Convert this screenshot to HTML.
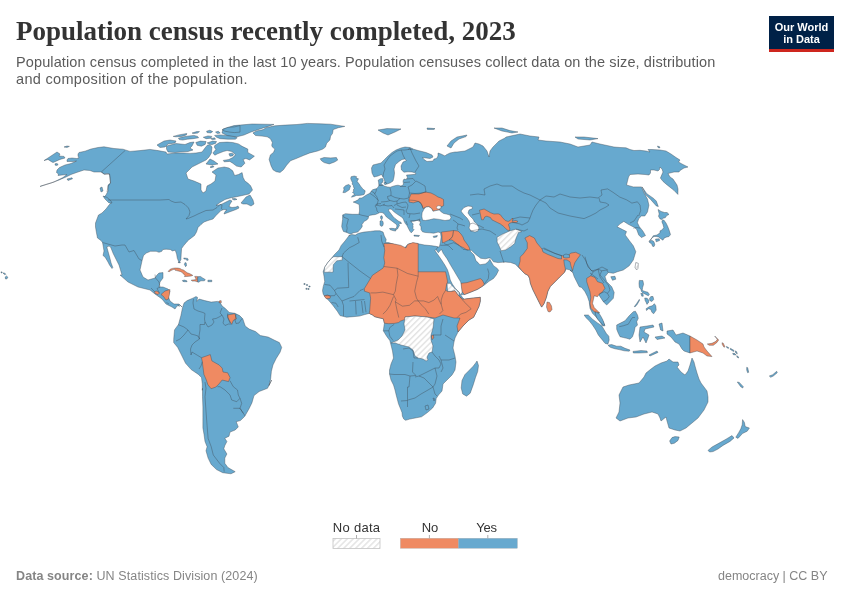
<!DOCTYPE html>
<html><head><meta charset="utf-8">
<style>
html,body{margin:0;padding:0;background:#fff;}
body{width:850px;height:600px;position:relative;overflow:hidden;font-family:"Liberation Sans",sans-serif;}
.t{position:absolute;white-space:nowrap;will-change:transform;}
#title{left:16px;top:16px;font-family:"Liberation Serif",serif;font-weight:bold;font-size:27px;line-height:31px;color:#333;}
.sub{left:16px;font-size:14.5px;line-height:17px;color:#5b5b5b;}
#logo{position:absolute;will-change:transform;left:769px;top:16px;width:65px;height:33px;background:#002147;border-bottom:3px solid #ce261e;color:#fff;font-weight:bold;font-size:11px;line-height:11px;text-align:center;}
#map{position:absolute;left:0;top:0;}
.foot{position:absolute;will-change:transform;top:569px;font-size:12.5px;line-height:14px;color:#858585;white-space:nowrap;}
.lg{position:absolute;top:519px;font-size:12.5px;line-height:14px;color:#333;white-space:nowrap;}
</style></head><body>
<div class="t" id="title">Population census recently completed, 2023</div>
<div class="t sub" style="top:54px;letter-spacing:0.117px">Population census completed in the last 10 years. Population censuses collect data on the size, distribution</div>
<div class="t sub" style="top:71px;letter-spacing:0.32px">and composition of the population.</div>
<div id="logo"><div style="padding-top:6px">Our World</div><div style="padding-top:1px">in Data</div></div>
<svg id="map" width="850" height="600" viewBox="0 0 850 600">
<defs><pattern id="hatch" patternUnits="userSpaceOnUse" width="4.2" height="4.2" patternTransform="rotate(45)"><rect width="4.2" height="4.2" fill="#fff"/><rect width="1.5" height="4.2" fill="#e4e4e4"/></pattern></defs>
<g stroke="#3c4650" stroke-opacity="0.8" stroke-width="0.5" stroke-linejoin="round">
<path d="M76.5,161.0 73.0,161.5 67.0,161.5 67.0,160.0 68.0,158.5 72.0,158.0 76.5,158.5 79.0,158.0 78.0,156.0 78.0,154.0 79.0,152.5 85.0,151.2 91.0,149.0 98.0,147.5 104.0,146.8 108.0,147.5 114.0,148.5 123.0,149.2 130.0,151.4 140.0,150.6 150.0,149.4 158.0,150.6 166.0,152.0 167.0,154.0 176.0,153.0 184.0,153.0 190.0,153.4 196.0,153.0 202.0,152.0 205.0,148.0 207.0,145.4 209.4,144.6 212.0,147.0 211.4,153.0 209.0,157.0 206.0,160.0 198.0,164.0 192.0,167.0 186.0,173.0 188.0,179.0 194.0,181.0 201.0,184.0 201.0,190.0 203.0,193.0 206.0,191.0 207.0,186.0 211.0,184.0 215.0,181.0 216.0,175.0 212.0,172.0 218.0,168.0 222.0,167.4 224.2,167.0 228.9,168.0 232.7,170.8 234.6,175.5 238.4,174.5 242.1,172.6 243.1,177.4 244.9,181.1 247.8,183.0 250.6,185.8 252.5,190.0 249.0,194.0 240.0,196.0 235.0,197.0 230.0,198.0 225.0,199.5 220.0,202.5 216.0,205.5 219.0,205.0 222.0,204.0 226.0,202.0 230.0,200.0 232.0,201.0 230.0,204.0 229.0,206.5 232.0,207.5 236.0,207.0 238.0,206.0 239.0,208.0 236.0,209.5 232.0,211.0 228.0,212.5 224.0,214.0 225.0,211.5 227.0,210.0 224.0,209.5 221.0,210.5 219.0,212.5 216.0,215.5 213.0,219.0 208.0,220.5 204.0,222.0 201.0,224.5 198.0,227.5 196.5,232.0 194.5,235.5 188.6,240.0 187.2,241.4 183.7,245.6 181.6,248.5 181.2,254.1 180.9,259.8 179.1,262.6 177.3,258.3 176.6,254.1 175.2,250.2 172.4,250.9 170.3,249.5 166.1,249.2 162.9,249.5 161.8,251.3 159.0,252.3 156.2,251.3 150.5,251.3 146.3,253.1 143.5,255.5 142.1,260.5 140.0,270.0 143.0,277.0 148.0,280.0 155.0,278.0 157.0,275.0 159.0,273.0 163.0,272.6 163.0,278.0 160.0,282.0 159.0,287.0 163.0,287.0 168.0,289.0 170.0,291.0 168.0,296.0 170.0,301.0 174.0,304.0 179.0,304.0 182.0,307.0 180.0,305.0 177.0,306.0 175.0,309.0 172.0,307.0 166.0,304.0 162.0,299.0 155.0,294.0 150.0,290.0 138.0,287.0 128.0,282.0 120.0,275.0 122.0,275.0 120.2,269.0 119.0,265.0 116.2,259.5 113.2,253.5 110.6,247.0 109.0,246.0 106.8,247.0 108.2,252.0 109.6,257.0 111.1,263.0 112.8,267.5 112.0,268.5 109.5,265.0 108.0,262.0 105.0,257.0 103.0,255.5 104.0,251.0 103.0,245.0 102.5,242.5 101.0,240.5 97.5,238.0 96.5,233.0 95.5,227.0 95.5,223.0 97.0,219.0 98.5,215.0 102.0,213.0 106.0,209.0 109.0,205.0 111.0,203.0 108.0,200.0 104.0,197.0 106.0,195.0 108.0,191.0 108.0,185.0 110.5,183.0 110.0,178.0 109.5,174.0 107.0,173.5 104.0,174.0 101.0,172.0 94.0,172.0 90.0,170.5 84.0,170.0 78.0,172.0 71.0,174.5 66.0,177.0 59.0,180.0 51.0,183.0 41.0,186.0 40.0,186.5 46.0,184.5 54.0,182.0 63.0,177.5 67.0,174.5 62.0,175.0 58.0,175.5 58.5,174.0 56.5,172.5 57.0,170.0 59.5,167.5 65.0,165.0 71.0,163.5Z" fill="#67a9cf"/>
<path d="M44.0,160.6 48.0,158.0 57.0,152.0 60.0,154.0 59.0,156.0 64.0,156.4 65.0,158.0 60.0,159.4 53.0,162.6 51.0,161.4 48.0,159.4Z" fill="#67a9cf"/>
<path d="M64.0,147.0 67.0,146.0 69.4,146.4 67.0,147.4Z" fill="#67a9cf"/>
<path d="M55.0,163.8 57.0,163.5 58.2,164.5 57.0,165.4 55.2,165.2Z" fill="#67a9cf"/>
<path d="M103.0,196.0 107.0,197.4 111.0,201.0 112.0,203.0 109.0,203.0 105.0,199.0Z" fill="#67a9cf"/>
<path d="M100.0,188.0 102.0,187.0 103.0,191.0 101.0,192.0Z" fill="#67a9cf"/>
<path d="M67.0,179.0 72.0,177.8 72.5,178.8 68.0,180.5Z" fill="#67a9cf"/>
<path d="M241.0,203.0 246.0,197.0 250.0,195.0 253.0,200.0 254.0,204.0 251.0,206.0 247.0,204.0 243.0,204.0Z" fill="#67a9cf"/>
<path d="M214.8,145.4 219.5,142.5 227.1,142.1 232.7,142.5 238.4,143.9 242.1,146.3 247.8,149.1 247.8,152.4 254.4,156.2 249.6,159.9 245.9,158.5 243.1,159.5 244.9,163.2 241.2,167.0 236.5,166.1 232.7,163.2 229.9,161.4 224.2,161.8 223.3,160.4 228.9,159.5 232.7,157.6 235.5,154.8 231.8,151.5 227.1,150.5 223.3,151.5 217.6,153.8 214.8,155.2 212.9,152.9 215.8,149.6 214.4,147.2Z" fill="#67a9cf"/>
<path d="M223.0,129.0 234.0,125.6 252.0,124.0 274.0,124.4 268.0,126.4 260.0,129.0 251.0,132.0 244.0,135.0 236.0,137.0 228.0,136.0 222.0,133.0Z" fill="#67a9cf"/>
<path d="M252.9,132.9 256.8,130.9 263.3,129.6 265.9,127.7 274.9,125.8 285.3,125.1 296.9,124.5 307.3,123.4 320.2,123.8 330.6,124.2 344.8,126.4 338.4,127.7 333.2,129.6 332.5,133.5 330.6,136.1 329.9,140.0 326.7,143.2 325.4,147.1 322.8,149.1 317.6,151.0 309.9,152.9 303.4,155.5 295.6,158.8 290.5,160.7 286.6,165.2 283.4,169.8 280.1,172.4 276.2,171.7 273.0,169.8 271.1,165.9 269.1,159.4 270.4,154.9 273.6,152.3 274.9,149.1 272.4,147.1 271.7,145.2 272.4,142.6 270.4,138.7 267.2,136.8 262.0,136.1 255.5,135.5Z" fill="#67a9cf"/>
<path d="M320.2,158.8 324.1,157.5 330.6,157.9 336.4,157.5 337.7,160.1 334.5,162.0 329.3,163.9 324.1,162.6 321.5,160.7Z" fill="#67a9cf"/>
<path d="M351.1,176.7 354.2,176.0 356.7,176.7 356.0,178.1 358.5,178.8 357.1,181.3 359.2,184.1 360.6,186.2 362.4,188.4 363.8,189.8 365.2,190.8 364.8,192.6 364.1,194.4 362.0,195.1 359.2,195.4 356.4,195.4 353.9,196.5 351.4,197.2 352.8,195.4 354.9,194.4 353.5,193.3 352.5,192.2 353.9,191.2 353.2,190.1 354.2,188.4 353.5,186.9 353.2,185.2 352.1,184.1 352.5,182.7 351.4,180.6 350.7,178.5Z" fill="#67a9cf"/>
<path d="M342.9,192.6 344.0,189.8 343.6,187.6 345.8,185.5 348.6,184.5 350.7,185.9 350.0,187.6 349.3,189.8 347.2,191.2 345.1,192.6Z" fill="#67a9cf"/>
<path d="M157.0,145.0 164.0,141.0 170.0,140.0 176.0,141.0 175.0,143.0 168.0,144.0 165.0,147.0 160.0,147.5Z" fill="#67a9cf"/>
<path d="M166.5,146.0 176.0,143.5 185.0,144.5 190.0,142.5 194.0,142.0 192.0,146.0 190.0,148.0 193.0,150.0 188.0,151.5 180.0,152.0 175.0,152.5 168.0,152.0 166.5,149.0Z" fill="#67a9cf"/>
<path d="M206.0,164.0 210.0,159.0 214.0,161.0 218.0,164.0 212.0,165.0Z" fill="#67a9cf"/>
<path d="M210.0,167.0 213.0,165.8 214.0,166.8 211.0,167.7Z" fill="#67a9cf"/>
<path d="M182.5,307.7 184.1,302.9 187.2,300.6 192.8,298.2 196.0,296.6 197.6,297.4 196.8,301.4 199.1,299.0 204.7,300.6 211.1,302.1 217.4,301.4 219.8,302.1 222.2,306.1 225.4,308.5 229.3,312.5 234.9,313.3 239.6,315.6 242.8,318.8 245.2,326.0 249.2,329.1 255.5,331.5 260.3,335.5 268.2,337.1 274.6,340.3 279.4,342.6 281.7,347.4 280.1,352.2 276.2,358.5 273.0,364.9 271.4,371.2 270.6,379.2 269.0,385.5 271.7,380.0 267.5,388.3 259.2,391.5 254.0,395.6 251.9,402.9 248.8,409.2 244.6,416.5 240.4,420.6 236.2,421.7 238.3,426.9 235.2,430.0 230.0,432.1 229.0,436.2 224.8,438.3 226.9,441.5 224.8,445.6 223.8,448.8 226.9,454.0 224.8,458.1 224.8,463.3 227.9,467.5 235.2,471.7 231.0,473.8 222.7,472.7 216.5,469.6 211.2,464.4 208.1,458.1 206.0,450.8 207.1,446.7 205.0,441.5 204.0,434.2 202.9,427.9 202.9,417.5 202.9,407.1 202.5,396.7 202.5,388.3 202.3,390.3 202.3,383.9 201.5,377.6 198.4,374.4 191.2,369.6 185.6,363.3 180.9,353.8 177.7,347.4 173.7,342.6 173.7,339.5 174.5,329.9 178.5,324.4 180.9,315.6Z" fill="#67a9cf"/>
<path d="M201.5,357.7 210.3,354.6 211.9,360.9 219.0,364.9 222.2,368.1 223.0,372.0 227.7,372.8 230.1,377.6 228.5,381.6 222.2,380.0 219.0,383.9 215.8,387.1 211.1,388.7 207.9,384.7 206.3,380.0 203.9,374.4 203.1,368.1 202.3,361.7Z" fill="#ef8a62"/>
<path d="M227.7,314.9 234.9,313.7 236.5,318.8 233.3,320.4 231.7,324.4 229.3,320.4 227.7,317.2Z" fill="#ef8a62"/>
<path d="M219.0,301.0 221.1,300.6 221.4,302.6 219.3,302.9Z" fill="#ef8a62"/>
<path d="M168.1,271.4 170.2,269.2 172.4,268.4 175.2,268.0 178.0,268.1 180.1,268.5 181.5,269.4 183.6,270.1 185.4,271.4 187.2,272.8 189.3,273.5 191.4,274.5 192.8,275.4 191.4,275.9 188.9,276.3 186.5,276.5 184.4,276.6 185.1,275.6 183.6,274.2 182.6,272.8 180.8,271.7 179.1,271.2 176.6,270.6 175.2,270.3 174.5,269.2 173.1,269.6 170.9,270.6 169.2,271.7Z" fill="#ef8a62"/>
<path d="M191.2,280.2 193.2,279.9 196.2,279.6 195.6,278.2 194.7,276.4 196.8,276.4 197.9,276.7 197.6,279.1 197.9,282.0 195.0,281.1 192.1,281.1Z" fill="#ef8a62"/>
<path d="M197.9,276.7 200.3,276.4 202.6,277.9 205.3,279.6 204.4,280.8 200.9,280.8 198.5,282.3 197.9,282.0 197.6,279.1Z" fill="#67a9cf"/>
<path d="M182.4,280.5 184.4,280.1 186.8,280.8 187.1,281.7 184.4,281.7 182.9,281.4Z" fill="#67a9cf"/>
<path d="M207.9,280.2 211.8,280.2 211.8,281.7 207.9,281.7Z" fill="#67a9cf"/>
<path d="M185.0,262.6 186.2,262.9 186.5,265.5 185.6,266.7 184.4,264.4Z" fill="#67a9cf"/>
<path d="M178.2,262.0 180.3,262.1 180.2,262.8 178.4,262.7Z" fill="#67a9cf"/>
<path d="M161.0,294.5 165.0,291.0 170.0,289.5 169.5,294.0 168.5,299.0 166.0,300.0 163.5,296.5Z" fill="#ef8a62"/>
<path d="M154.5,291.5 157.0,291.0 159.5,293.0 158.0,294.5 155.0,293.5Z" fill="#ef8a62"/>
<path d="M350.2,234.2 349.0,233.6 346.7,232.4 343.5,231.5 342.6,229.5 341.7,226.6 342.0,223.7 342.6,219.6 342.6,214.9 345.5,213.7 352.5,214.3 358.9,214.3 359.5,211.0 359.4,208.0 359.2,204.6 356.3,203.2 353.2,202.1 353.2,202.1 355.6,201.1 358.5,199.6 359.2,198.2 362.0,197.9 364.8,196.1 366.9,194.7 369.8,193.3 371.2,191.2 372.6,189.8 374.7,189.1 376.5,188.7 378.2,186.9 378.9,185.2 378.6,182.4 378.2,180.2 380.4,178.8 382.5,178.5 383.2,180.6 382.5,182.4 381.1,183.4 381.8,184.5 383.2,185.2 384.6,186.2 387.4,186.9 390.2,187.3 393.1,186.2 395.9,185.5 398.0,185.2 401.0,186.0 403.5,184.5 403.0,181.0 404.0,179.0 406.0,179.5 407.5,178.0 406.5,175.0 410.0,174.8 415.5,174.3 415.8,173.0 412.0,172.0 408.0,171.8 404.0,172.2 401.5,170.0 401.0,166.0 403.0,162.0 406.5,160.5 405.0,159.0 402.0,159.5 399.0,161.5 395.5,164.5 394.0,169.0 394.5,173.0 394.0,177.0 393.0,181.0 390.0,183.0 387.0,184.0 385.0,183.0 384.5,180.0 383.0,177.0 381.5,174.5 378.0,176.0 374.0,177.0 372.0,173.0 371.5,168.0 373.0,165.0 377.0,164.0 381.0,163.0 384.5,159.5 388.0,156.0 392.0,152.5 396.0,150.0 401.0,148.0 405.0,147.0 410.0,147.5 413.0,149.0 418.0,150.5 426.0,152.5 432.0,155.0 433.0,157.0 430.0,158.5 422.5,157.5 424.0,159.5 427.0,161.5 433.0,161.0 434.0,159.0 436.5,158.5 438.0,156.0 438.0,153.0 441.0,154.0 445.0,156.0 446.0,155.0 450.0,153.0 455.0,152.0 457.0,152.0 465.0,151.0 473.0,147.0 475.0,143.0 479.0,144.0 483.0,146.0 487.0,151.0 489.0,157.0 490.0,151.0 493.0,147.0 499.0,141.0 505.0,138.0 506.0,137.0 520.0,134.0 530.0,136.0 539.0,137.0 538.0,140.0 546.0,141.0 560.0,142.0 570.0,144.0 578.0,147.0 584.0,146.0 590.0,145.0 592.0,142.0 600.0,144.0 614.0,147.0 620.0,147.5 626.0,147.8 630.0,149.5 634.0,150.5 640.0,150.3 646.0,151.0 650.0,152.0 648.0,149.5 652.0,149.5 660.0,150.0 666.0,151.0 671.0,154.0 676.0,157.5 680.0,160.0 678.5,162.0 682.0,164.0 688.0,167.0 684.0,168.0 680.0,170.5 679.0,172.0 674.0,172.0 670.0,173.0 668.0,173.5 670.0,177.0 673.0,179.0 675.0,182.0 677.0,185.0 678.0,189.0 677.9,194.4 673.9,190.3 667.1,184.9 663.1,181.5 660.4,178.1 663.0,172.0 662.0,169.0 660.0,167.0 659.5,169.5 658.0,171.0 654.0,170.0 650.5,170.0 650.5,173.0 649.0,175.0 645.0,174.5 638.0,174.0 630.0,174.5 628.5,177.0 626.5,185.0 633.3,186.9 641.4,186.9 644.1,193.0 647.5,199.1 648.9,205.2 647.5,211.9 644.8,216.0 641.4,216.0 638.7,218.7 637.4,222.8 639.4,226.8 642.8,230.9 645.5,235.6 641.4,237.6 638.7,234.9 636.7,229.5 634.6,227.5 630.6,225.5 627.9,224.1 623.8,221.4 619.8,224.1 617.1,226.8 622.5,229.5 626.5,231.6 625.2,234.9 629.2,240.4 633.3,245.8 635.8,251.7 633.3,260.0 629.2,265.8 623.3,270.0 617.5,271.7 613.3,273.3 608.3,272.5 605.0,276.7 606.7,281.7 611.7,286.7 614.2,292.5 613.3,298.3 610.0,301.7 606.7,305.0 603.3,301.7 600.0,296.7 598.3,294.2 595.0,295.0 593.3,296.7 591.7,301.7 590.8,306.7 593.3,310.0 596.7,313.3 600.0,316.7 603.3,321.7 605.0,325.8 602.5,325.8 599.2,320.8 595.8,316.7 592.5,313.3 590.0,308.3 589.2,301.7 587.5,296.7 585.0,291.7 581.7,287.5 579.2,286.7 576.7,281.7 574.2,276.7 572.5,271.7 570.0,270.0 572.5,272.2 569.4,269.8 566.2,269.0 564.6,272.2 559.8,276.9 555.1,281.7 550.3,286.5 547.9,291.2 546.3,297.6 543.9,303.9 541.6,307.1 539.2,302.4 536.0,296.0 532.8,289.6 530.4,283.3 529.6,278.5 528.1,275.4 524.9,273.8 521.7,270.6 518.5,267.4 515.4,264.2 510.6,262.5 505.0,262.0 498.1,262.6 493.5,261.8 490.8,258.3 489.0,257.9 485.3,258.8 480.7,258.3 476.1,254.7 471.1,250.1 470.1,251.0 474.0,255.0 476.1,261.1 478.0,262.5 479.8,264.8 485.3,263.9 488.0,262.0 489.9,259.3 490.8,261.1 493.5,265.7 497.2,268.4 498.6,270.3 496.3,274.9 493.5,278.5 489.0,281.3 484.4,285.0 477.6,289.3 471.0,292.0 464.3,294.6 461.0,294.6 462.3,292.0 461.9,285.3 460.3,281.3 457.1,276.0 453.9,270.6 450.7,265.3 447.0,258.7 443.2,253.3 441.4,249.3 439.6,251.3 438.3,252.7 436.3,250.0 435.0,247.3 439.3,246.9 440.5,241.9 441.1,237.0 440.5,232.7 438.1,232.1 433.8,233.2 429.5,232.8 425.3,232.5 422.5,231.8 421.0,229.6 421.0,226.8 419.6,224.7 420.3,222.6 420.3,221.2 418.9,220.5 416.8,220.5 414.0,221.2 411.2,221.2 411.9,222.6 413.3,224.0 412.6,226.1 413.3,226.8 412.6,228.2 414.0,229.6 412.6,231.4 411.2,232.8 409.8,231.1 408.3,228.2 407.6,226.8 406.9,225.4 405.2,223.3 404.1,221.2 403.4,219.0 401.6,216.9 399.9,215.9 397.1,214.1 394.2,212.0 391.4,209.2 390.0,209.0 388.5,209.5 388.8,211.0 390.0,212.5 391.5,214.5 393.0,216.5 395.0,218.5 397.0,220.0 399.0,221.5 401.0,222.3 401.5,223.5 400.0,223.5 399.0,224.5 399.5,225.5 398.5,227.0 397.5,229.0 396.0,229.5 395.5,228.5 396.5,227.5 397.0,226.0 396.5,224.5 394.5,223.0 392.5,221.5 390.5,220.0 388.5,218.5 386.5,217.0 385.0,215.0 384.0,213.5 382.0,212.5 379.8,212.6 377.9,213.5 375.5,214.5 372.2,214.9 369.4,215.4 368.5,216.7 368.2,218.4 366.5,220.2 364.2,221.3 363.0,223.1 361.8,224.8 362.4,226.0 361.8,227.2 360.1,229.5 357.7,232.1 353.7,232.7Z" fill="#67a9cf"/>
<path d="M349.1,235.8 351.6,234.5 355.3,235.1 358.4,233.3 363.9,232.1 370.1,231.4 375.1,230.8 380.0,230.8 383.1,232.1 384.3,235.8 386.2,239.5 385.6,242.6 388.6,242.6 392.4,243.8 396.1,245.0 401.0,246.9 404.7,248.1 406.6,245.6 409.0,243.8 413.4,243.2 418.3,243.8 424.5,245.0 430.6,245.6 435.6,246.3 438.1,246.9 435.0,250.7 438.3,255.3 441.6,260.0 445.0,265.3 447.6,270.0 449.0,274.6 450.3,280.0 452.3,284.0 455.0,288.0 459.0,292.0 461.0,295.3 462.3,297.3 464.3,299.3 468.3,298.6 473.6,298.0 480.3,297.3 480.3,301.3 478.9,306.6 476.3,311.9 473.6,317.3 469.0,320.0 463.0,326.0 458.0,332.0 455.0,338.0 454.0,342.0 453.0,348.0 455.0,356.0 456.0,362.0 455.0,370.0 452.0,375.0 447.0,380.0 443.0,384.0 442.0,391.0 438.5,395.0 436.2,398.5 435.6,403.2 432.6,408.0 427.4,412.6 421.5,416.8 412.6,418.5 409.7,419.1 405.6,420.3 403.8,419.1 402.4,416.2 402.0,412.6 400.9,409.7 398.5,403.8 396.2,395.0 395.0,390.0 393.5,385.0 391.0,380.0 389.5,374.0 389.5,370.0 391.0,364.0 393.5,358.0 392.5,351.0 391.0,345.0 389.8,340.5 386.6,336.2 383.3,330.8 384.4,323.2 383.3,318.8 379.0,317.8 374.7,316.7 372.5,315.0 369.2,313.4 364.9,314.5 359.5,316.1 353.0,316.7 346.5,317.2 340.0,315.6 337.5,311.5 333.0,305.5 329.2,301.0 325.5,297.2 323.2,294.2 322.5,290.5 323.2,286.7 324.7,281.5 324.0,276.2 323.2,271.7 324.7,267.2 327.7,262.7 331.5,258.2 334.5,254.5 339.0,250.0 341.2,245.5 345.0,241.0 349.5,235.0Z" fill="#67a9cf"/>
<path d="M378.0,130.0 387.0,128.6 401.0,129.0 395.0,132.0 388.0,135.0 383.0,133.0Z" fill="#67a9cf"/>
<path d="M427.0,128.0 435.0,128.6 434.0,129.4 427.4,129.4Z" fill="#67a9cf"/>
<path d="M447.0,146.0 451.0,141.0 457.0,137.0 467.0,135.0 466.0,136.6 459.0,139.0 454.0,143.0 451.0,148.0Z" fill="#67a9cf"/>
<path d="M494.0,128.0 502.0,128.0 510.0,130.6 518.0,132.0 512.0,133.0 502.0,131.0Z" fill="#67a9cf"/>
<path d="M575.0,137.0 584.0,137.0 598.0,138.6 590.0,140.0 578.0,139.0Z" fill="#67a9cf"/>
<path d="M657.5,146.0 660.0,147.0 659.5,148.0 658.0,147.5Z" fill="#67a9cf"/>
<path d="M642.1,186.9 646.8,193.7 653.6,198.4 656.3,201.1 658.3,206.5 656.3,205.9 650.9,199.8 645.5,194.4Z" fill="#67a9cf"/>
<path d="M658.1,209.5 661.1,211.4 664.5,212.5 667.1,212.5 669.0,214.4 666.8,215.5 665.2,217.8 663.0,218.1 662.2,219.6 660.0,218.9 658.5,216.2 659.2,214.0Z" fill="#67a9cf"/>
<path d="M662.2,220.4 663.8,220.0 666.0,223.0 667.5,226.0 669.0,229.8 670.5,234.6 669.0,236.5 666.0,237.2 663.8,238.4 663.0,240.2 660.8,238.8 658.5,236.9 656.2,236.5 654.0,236.5 651.8,238.0 650.2,240.2 649.1,241.4 651.0,239.5 653.2,235.8 657.0,235.0 660.0,232.8 660.0,230.9 662.2,229.8 663.8,227.5 663.0,224.5 661.9,221.9Z" fill="#67a9cf"/>
<path d="M610.8,276.7 615.0,276.3 615.8,279.2 612.5,280.3Z" fill="#67a9cf"/>
<path d="M639.3,280.4 642.9,280.6 643.6,284.3 642.6,287.6 642.2,290.4 645.1,291.5 647.9,292.2 649.4,294.4 648.3,295.8 645.8,294.4 642.9,292.9 641.5,291.5 640.8,289.3 639.3,287.2 639.0,283.6Z" fill="#67a9cf"/>
<path d="M646.1,308.7 649.4,306.6 652.2,305.8 654.4,303.7 655.8,305.8 656.2,310.1 654.7,312.3 653.7,313.7 651.9,312.3 650.8,309.4 648.6,308.7 646.5,310.5Z" fill="#67a9cf"/>
<path d="M644.7,298.0 647.2,298.3 649.0,300.5 648.3,303.0 646.9,304.4 646.1,302.3 645.1,300.5Z" fill="#67a9cf"/>
<path d="M634.3,306.6 636.5,303.7 639.3,299.4 639.7,300.1 637.2,304.4 635.0,306.9Z" fill="#67a9cf"/>
<path d="M584.2,315.0 588.3,315.0 592.5,319.2 597.5,322.9 601.7,325.8 603.8,329.2 606.2,333.3 608.8,336.2 609.2,340.0 607.9,344.2 605.0,343.3 601.7,339.2 598.3,335.0 595.8,330.0 592.5,325.0 589.2,320.8 585.8,317.5Z" fill="#67a9cf"/>
<path d="M608.3,345.0 611.7,344.6 616.7,346.2 620.8,346.2 625.0,348.3 630.0,350.0 629.2,351.2 624.2,350.8 619.2,349.6 615.0,348.8 610.8,347.5 608.8,346.2Z" fill="#67a9cf"/>
<path d="M616.7,325.0 620.0,323.3 625.0,320.8 629.2,315.8 633.3,311.7 635.4,311.2 637.5,315.0 638.3,318.3 636.7,321.7 637.5,325.0 635.0,327.5 634.2,331.7 632.5,336.7 630.0,339.2 626.7,338.3 623.3,337.5 620.0,336.7 618.3,333.3 616.7,329.2Z" fill="#67a9cf"/>
<path d="M640.0,327.0 647.0,326.0 653.0,325.0 654.0,327.0 645.0,329.0 644.0,332.0 649.0,335.0 648.0,338.0 646.0,343.0 643.0,337.0 640.0,342.0 639.0,335.0Z" fill="#67a9cf"/>
<path d="M633.0,351.4 641.0,350.6 647.0,351.0 647.4,352.6 639.0,353.0 633.4,353.0Z" fill="#67a9cf"/>
<path d="M649.0,355.0 657.0,351.0 658.0,352.4 650.0,356.0Z" fill="#67a9cf"/>
<path d="M659.0,324.0 662.0,323.0 663.0,331.0 660.6,330.0Z" fill="#67a9cf"/>
<path d="M667.0,331.0 673.0,330.0 676.0,335.0 683.0,333.0 690.0,336.0 690.0,353.0 684.0,351.0 682.0,349.0 679.0,344.0 675.0,342.0 671.0,337.0 667.0,334.0Z" fill="#67a9cf"/>
<path d="M690.0,336.0 697.0,340.0 703.0,344.0 704.0,347.0 707.0,351.0 712.0,356.6 707.0,356.0 703.0,353.0 697.0,351.0 690.0,353.0Z" fill="#ef8a62"/>
<path d="M707.3,344.0 712.0,343.3 716.0,341.3 717.3,339.3 714.7,336.0 718.7,340.0 716.7,342.7 713.3,345.3 709.3,345.3Z" fill="#ef8a62"/>
<path d="M726.4,346.4 728.7,347.6 728.4,348.5 726.7,347.5Z" fill="#67a9cf"/>
<path d="M730.4,348.3 734.0,350.4 733.6,351.5 730.1,349.3Z" fill="#67a9cf"/>
<path d="M732.7,353.3 734.9,353.6 736.0,354.9 733.3,354.7Z" fill="#67a9cf"/>
<path d="M620.0,403.0 619.0,395.0 623.0,387.0 629.0,385.0 639.0,383.0 644.0,377.0 646.0,373.0 651.0,369.0 655.0,366.0 661.0,363.0 667.0,361.0 669.0,359.0 673.0,362.0 678.0,362.0 679.0,365.0 677.0,367.0 681.0,372.0 685.0,375.0 688.0,371.0 690.0,365.0 692.0,358.0 694.0,362.0 695.0,366.0 697.0,373.0 699.0,379.0 701.0,383.0 704.0,387.0 707.0,391.0 708.0,397.0 708.0,402.0 704.0,410.0 698.0,418.0 692.0,423.0 686.0,428.0 680.0,431.0 675.0,430.0 669.0,428.0 667.0,421.0 666.0,417.0 661.0,421.0 660.0,418.0 658.0,414.0 652.0,412.0 644.0,414.0 636.0,417.0 628.0,418.0 620.0,421.0 616.0,418.0 619.0,412.0Z" fill="#67a9cf"/>
<path d="M669.6,441.0 672.0,437.6 675.0,436.6 679.2,437.0 678.0,440.4 674.4,443.2 671.0,444.0Z" fill="#67a9cf"/>
<path d="M742.6,419.6 744.4,422.4 745.2,426.6 749.4,428.0 747.2,431.2 742.4,433.6 738.0,438.4 735.8,437.2 738.8,432.4 740.8,428.8 742.2,424.8Z" fill="#67a9cf"/>
<path d="M708.0,450.4 712.0,447.0 720.0,442.6 726.0,439.2 732.0,435.6 734.0,438.0 730.0,441.4 723.0,445.4 718.0,449.0 713.0,451.6 709.6,452.0Z" fill="#67a9cf"/>
<path d="M737.3,382.0 739.3,382.4 743.3,386.7 742.7,388.0 740.7,386.7Z" fill="#67a9cf"/>
<path d="M477.0,361.0 478.5,365.5 477.7,371.5 475.5,377.5 473.2,384.9 470.2,393.2 466.5,396.2 462.7,393.9 461.2,387.9 462.0,380.4 465.0,374.5 469.5,370.0 473.2,366.2 475.5,363.2Z" fill="#67a9cf"/>
<path d="M433.1,236.4 437.4,235.5 436.8,237.0 433.7,237.5Z" fill="#67a9cf"/>
<path d="M414.0,235.1 419.5,235.5 418.9,236.4 414.0,236.1Z" fill="#67a9cf"/>
<path d="M389.5,228.5 391.5,228.3 394.0,228.5 395.5,229.0 395.8,231.0 394.0,230.8 392.0,230.3 390.0,229.5Z" fill="#67a9cf"/>
<path d="M380.0,221.0 381.5,220.5 383.0,221.5 383.3,224.0 382.5,226.0 381.0,226.3 380.0,225.0 380.0,222.5Z" fill="#67a9cf"/>
<path d="M380.8,216.0 382.0,215.8 382.5,217.5 382.0,219.5 381.3,219.5 380.5,218.0Z" fill="#67a9cf"/>
<path d="M409.0,199.0 411.0,194.0 419.0,194.0 425.0,192.0 431.0,193.0 435.0,195.0 438.0,197.0 441.0,198.0 443.5,199.5 443.6,202.8 443.6,205.6 440.8,207.1 439.4,209.9 435.9,210.6 433.0,211.3 431.6,208.5 428.8,206.7 426.0,207.1 424.6,207.4 423.2,208.8 422.5,207.1 421.0,203.5 418.2,201.4 413.3,202.8 409.0,202.1Z" fill="#ef8a62"/>
<path d="M479.5,210.2 484.1,209.0 486.9,210.6 490.5,212.7 494.0,214.1 498.2,213.8 500.4,214.8 502.5,217.6 505.3,220.5 508.1,221.5 510.2,220.5 512.4,218.0 513.1,219.1 512.0,221.2 514.1,220.8 515.9,220.5 518.0,221.5 516.6,222.6 514.1,222.6 511.6,222.6 509.5,223.3 508.5,224.7 509.2,226.8 509.9,228.9 509.5,230.7 507.4,230.0 505.3,228.2 503.2,226.1 500.4,224.0 497.5,222.6 494.7,221.2 491.9,219.8 490.5,217.6 486.9,216.2 484.8,216.9 483.4,219.8 481.6,219.8 480.6,215.5Z" fill="#ef8a62"/>
<path d="M441.5,232.0 446.0,231.5 450.0,231.0 453.5,230.5 453.0,235.0 452.0,237.5 449.0,240.0 445.0,242.0 442.5,243.0 442.0,239.0 442.0,236.0Z" fill="#ef8a62"/>
<path d="M453.5,230.5 458.0,231.0 461.0,234.0 463.0,237.0 464.0,240.0 467.0,244.0 469.0,247.0 470.0,250.0 467.0,250.0 464.0,248.0 460.0,246.0 456.0,243.0 452.0,240.0 449.0,240.0 452.0,237.5 453.0,235.0Z" fill="#ef8a62"/>
<path d="M461.0,283.3 467.0,282.6 473.6,280.6 480.3,278.6 482.3,280.0 484.3,284.0 482.9,286.0 477.6,289.3 471.0,292.0 464.3,294.6 462.3,292.0 461.6,288.0Z" fill="#ef8a62"/>
<path d="M383.8,243.5 391.8,243.5 400.6,245.3 405.9,247.9 407.6,244.4 412.9,242.6 418.2,243.5 418.2,271.8 445.6,271.8 447.4,280.6 447.4,282.4 446.5,285.0 445.6,290.3 447.6,291.3 451.0,291.3 455.0,290.6 459.0,296.0 463.0,299.3 468.3,298.6 473.6,298.0 480.3,297.3 480.3,301.3 478.9,306.6 476.3,311.9 473.6,317.3 469.0,320.0 463.0,326.0 458.0,332.0 457.0,326.0 460.0,318.0 454.0,318.0 443.0,315.0 435.0,318.0 427.0,317.0 415.0,316.0 405.0,317.0 405.0,319.4 400.7,321.0 398.5,322.6 394.2,323.4 388.8,323.7 384.4,323.2 383.3,318.8 379.0,317.8 374.7,316.7 372.5,315.0 369.2,313.4 369.7,310.6 370.6,298.2 369.7,292.9 364.4,291.2 364.4,288.5 372.4,275.3 382.9,268.2 383.8,266.5 384.7,262.9 383.8,257.6 384.7,250.6Z" fill="#ef8a62"/>
<path d="M431.4,335.6 433.4,335.0 433.8,338.0 432.0,339.6Z" fill="#ef8a62"/>
<path d="M447.0,283.3 450.3,283.3 452.3,286.0 455.0,288.6 459.0,292.6 459.0,296.0 455.0,290.6 451.0,291.3 447.6,291.3Z" fill="url(#hatch)"/>
<path d="M524.9,238.0 529.6,235.6 534.4,238.0 536.8,242.8 540.8,247.6 542.0,249.0 543.0,252.0 548.0,254.5 553.0,256.5 558.0,258.5 561.5,259.0 561.5,255.5 563.0,256.0 566.2,257.1 570.9,253.1 575.7,252.3 580.5,254.7 578.1,257.9 574.9,262.6 573.3,267.4 572.5,270.9 570.9,265.8 570.1,261.9 567.0,259.9 563.8,259.8 564.3,264.2 565.4,269.0 564.6,272.2 559.8,276.9 555.1,281.7 550.3,286.5 547.9,291.2 546.3,297.6 543.9,303.9 541.6,307.1 539.2,302.4 536.0,296.0 532.8,289.6 530.4,283.3 529.6,278.5 528.1,275.4 524.9,273.8 521.7,270.6 518.5,266.6 520.1,261.1 520.1,257.1 523.3,253.9 527.3,248.4 527.3,242.8Z" fill="#ef8a62"/>
<path d="M547.0,302.0 549.5,302.5 551.5,306.0 552.0,309.5 550.0,312.0 548.0,311.5 546.5,307.0Z" fill="#ef8a62"/>
<path d="M586.7,278.3 590.8,275.8 595.0,277.5 597.5,281.7 602.5,283.3 605.0,288.3 602.5,291.7 599.2,294.2 597.5,296.7 594.2,295.8 593.3,300.0 592.5,303.3 594.2,307.5 596.7,310.0 599.2,312.5 597.5,313.3 594.2,311.7 590.8,308.3 590.0,303.3 590.8,297.5 590.0,291.7 588.3,286.7 586.7,281.7Z" fill="#ef8a62"/>
<path d="M324.0,295.7 327.7,295.0 330.7,296.5 330.0,298.3 326.2,298.7Z" fill="#ef8a62"/>
<path d="M331.5,258.2 333.7,256.7 342.3,256.7 342.3,260.2 336.7,260.8 333.3,264.7 333.0,272.2 324.0,272.2 324.7,267.2 327.7,262.7Z" fill="url(#hatch)"/>
<path d="M405.0,317.0 415.0,316.0 427.0,317.0 434.0,319.0 433.0,328.0 431.0,335.0 431.0,340.0 433.0,346.0 432.0,352.0 429.0,353.0 427.0,357.0 428.0,360.0 426.0,361.0 423.0,359.0 418.0,358.0 415.0,356.0 413.0,350.0 409.0,347.0 401.0,345.0 395.0,343.0 391.0,343.0 398.0,340.0 402.0,336.0 405.0,330.0 404.0,324.0Z" fill="url(#hatch)"/>
<path d="M497.1,237.2 502.6,234.1 509.8,230.9 515.4,229.3 518.5,230.1 521.7,231.7 518.5,232.5 516.1,238.0 514.6,243.6 510.6,246.8 505.8,249.9 501.1,250.7 499.5,246.8 497.1,242.0Z" fill="url(#hatch)"/>
<path d="M635.8,262.5 638.3,263.3 638.0,268.3 636.7,270.0 635.0,267.5Z" fill="url(#hatch)"/>
<path d="M383.9,182.7 386.0,182.4 386.7,184.1 384.9,184.8Z" fill="#67a9cf"/>
<path d="M640.8,293.3 642.9,293.6 643.3,296.2 641.8,296.2Z" fill="#67a9cf"/>
<path d="M650.8,296.5 653.0,296.5 653.7,299.4 651.9,301.5 650.1,300.8 649.4,298.7Z" fill="#67a9cf"/>
<path d="M595.4,311.7 598.8,312.9 601.2,316.7 602.9,320.0 604.6,325.0 603.3,325.4 601.2,322.9 598.3,320.0 596.7,317.5 595.4,314.2Z" fill="#67a9cf"/>
<path d="M649.1,241.4 651.8,240.2 654.0,241.8 654.8,244.8 654.0,246.6 652.5,246.2 651.8,244.0 649.5,242.5Z" fill="#67a9cf"/>
<path d="M655.5,239.1 659.2,238.8 659.6,240.6 656.2,241.8Z" fill="#67a9cf"/>
<path d="M5.2,277.0 6.5,276.0 7.9,277.3 7.0,278.8 5.5,279.0Z" fill="#67a9cf"/>
<path d="M3.0,273.0 4.5,272.9 5.8,274.3 4.5,274.6Z" fill="#67a9cf"/>
<path d="M1.0,271.8 2.3,272.2 2.0,273.0 1.0,272.8Z" fill="#67a9cf"/>
<path d="M722.0,342.7 723.3,343.3 724.9,346.7 724.0,347.3 722.4,344.7Z" fill="#ef8a62"/>
<path d="M735.1,350.9 736.7,351.7 737.3,353.9 735.7,352.8Z" fill="#67a9cf"/>
<path d="M736.7,355.7 738.4,356.8 738.7,358.0 737.1,357.3Z" fill="#67a9cf"/>
<path d="M746.7,367.3 747.7,367.7 748.7,372.3 747.6,372.7 746.7,370.0Z" fill="#67a9cf"/>
<path d="M769.3,376.0 772.7,374.7 776.7,371.3 777.3,372.7 773.3,376.0 770.7,377.3Z" fill="#67a9cf"/>
<path d="M303.9,283.5 305.1,283.5 305.1,284.5 303.9,284.5Z" fill="#67a9cf"/>
<path d="M306.4,284.5 307.6,284.5 307.6,285.5 306.4,285.5Z" fill="#67a9cf"/>
<path d="M308.9,286.0 310.1,286.0 310.1,287.0 308.9,287.0Z" fill="#67a9cf"/>
<path d="M305.9,288.3 307.1,288.3 307.1,289.3 305.9,289.3Z" fill="#67a9cf"/>
<path d="M307.9,288.5 309.1,288.5 309.1,289.5 307.9,289.5Z" fill="#67a9cf"/>
<path d="M173.2,136.4 178.8,134.9 186.8,133.5 186.4,134.9 181.6,136.4 176.0,136.8Z" fill="#67a9cf"/>
<path d="M178.4,138.2 183.5,136.8 189.2,135.9 193.9,135.4 197.6,136.4 198.6,137.8 192.9,138.7 187.3,139.2 182.6,140.1 179.3,139.6Z" fill="#67a9cf"/>
<path d="M192.0,133.1 196.7,131.6 199.5,131.6 197.6,133.1 193.9,133.5Z" fill="#67a9cf"/>
<path d="M206.6,131.2 209.9,130.2 212.7,131.6 210.8,132.9 207.1,132.6Z" fill="#67a9cf"/>
<path d="M215.5,132.1 218.4,131.2 220.2,133.1 217.4,133.5Z" fill="#67a9cf"/>
<path d="M203.3,137.3 208.0,135.9 211.8,136.4 210.8,138.2 206.1,138.7Z" fill="#67a9cf"/>
<path d="M210.8,138.7 214.6,137.8 215.5,139.2 212.2,139.6Z" fill="#67a9cf"/>
<path d="M214.6,135.4 220.2,134.9 225.9,135.4 233.4,136.4 237.2,137.8 235.3,139.2 227.8,139.2 220.2,138.7 216.5,137.3Z" fill="#67a9cf"/>
<path d="M222.1,129.8 227.8,127.4 234.4,126.9 240.0,125.5 240.0,132.1 234.4,132.6 229.6,132.1 224.9,131.2Z" fill="#67a9cf"/>
<path d="M195.8,142.5 200.5,141.1 206.1,141.5 205.2,144.4 201.4,146.2 197.2,145.3Z" fill="#67a9cf"/>
<path d="M207.1,142.9 212.7,141.1 216.5,141.5 215.5,143.4 211.3,144.8Z" fill="#67a9cf"/>
<path d="M232.0,198.8 235.0,198.4 237.0,199.4 234.0,200.0Z" fill="#67a9cf"/>
<path d="M655.0,337.0 662.0,336.0 665.0,338.0 657.0,339.5Z" fill="#67a9cf"/>
<path d="M183.7,258.0 187.6,258.4 188.3,260.1 186.9,260.5 185.8,259.1 184.1,259.1Z" fill="#67a9cf"/>
<path d="M563.5,255.0 566.0,254.0 569.5,255.0 569.5,257.5 566.0,258.0 563.5,257.5Z" fill="#67a9cf"/>
<path d="M228.9,153.8 231.8,153.2 233.6,154.3 232.7,155.9 229.9,156.2Z" fill="#67a9cf"/>
<path d="M421.8,216.2 422.1,212.7 423.9,209.2 426.0,207.1 428.8,206.7 431.6,208.5 433.0,211.3 435.9,210.6 439.4,209.9 440.8,211.6 443.6,213.4 446.5,214.1 450.0,215.0 451.0,217.5 450.0,219.8 445.0,220.5 439.4,219.4 433.8,218.7 429.5,219.8 425.3,220.5 422.5,220.1Z" fill="#fff"/>
<path d="M461.0,211.0 464.0,207.5 468.0,206.0 472.0,206.5 472.5,208.5 469.0,210.0 468.0,213.0 470.0,216.0 473.0,219.0 474.5,222.0 477.0,224.0 479.0,228.0 478.0,231.0 475.0,232.0 471.0,231.0 469.0,228.0 470.0,224.0 469.0,221.0 467.0,218.0 464.0,215.0 462.0,212.5Z" fill="#fff"/>
<path d="M436.0,207.5 438.0,205.6 441.0,206.0 440.8,208.5 438.0,209.2Z" fill="#fff"/>
<path d="M125.0,150.6 101.5,171.8 104.5,174.5 109.5,174.0 110.5,183.0 108.0,186.5 107.0,192.0" fill="none"/>
<path d="M108.0,200.0 160.0,200.0 169.0,199.5 171.0,201.0 175.0,202.5 181.0,202.0 185.0,204.5 188.5,208.0 190.0,212.0 189.0,215.5 186.0,219.0 188.0,218.5 194.0,216.0 198.0,214.0 206.0,210.5 213.0,210.0 217.0,207.5 220.0,204.5 222.0,205.0 221.5,208.5 222.5,209.5" fill="none"/>
<path d="M102.5,242.5 115.0,246.0 122.0,245.0 125.0,245.0 129.0,252.0 134.0,250.5 139.0,259.0 142.0,260.5" fill="none"/>
<path d="M155.0,274.5 155.5,278.0 159.0,282.0 160.0,287.0 157.0,288.5" fill="none"/>
<path d="M151.0,288.0 154.5,291.5" fill="none"/>
<path d="M157.0,288.5 159.5,293.0" fill="none"/>
<path d="M166.5,302.5 169.0,304.0" fill="none"/>
<path d="M178.0,304.5 179.5,307.0" fill="none"/>
<path d="M193.5,299.0 193.0,303.0 194.0,309.0 198.0,311.0 203.0,312.5 205.0,313.5 204.5,319.0 205.0,322.0 204.5,324.5 200.0,324.5" fill="none"/>
<path d="M205.0,322.0 208.0,327.0 212.0,325.0 214.0,322.0 212.5,319.0 216.0,318.5 220.0,316.5 222.0,315.0 220.0,313.0 222.0,308.0" fill="none"/>
<path d="M222.0,315.0 224.0,319.0 223.0,323.0 225.0,325.5 228.5,324.0 231.0,324.0" fill="none"/>
<path d="M227.5,313.5 228.0,318.0 230.0,323.0" fill="none"/>
<path d="M236.0,314.0 235.0,320.0 236.0,323.5 239.0,323.0 242.0,318.5" fill="none"/>
<path d="M178.0,324.5 184.0,327.0 188.0,330.0 191.0,334.0 195.0,335.0 198.0,336.0 199.5,339.0" fill="none"/>
<path d="M200.0,324.5 200.0,330.0 199.0,336.0 199.5,339.0 195.0,342.0 192.0,345.0 190.5,349.0 191.0,355.0" fill="none"/>
<path d="M188.0,330.0 184.0,335.0 180.0,339.0 176.0,341.0" fill="none"/>
<path d="M191.0,355.0 192.0,352.0 197.6,355.4 201.5,357.7" fill="none"/>
<path d="M202.3,361.7 201.0,366.0 199.0,369.0" fill="none"/>
<path d="M205.0,382.1 206.0,388.3 205.0,396.7 206.0,411.2 207.1,425.8 208.1,438.3 211.2,446.7 213.3,455.0 219.6,463.3 223.8,467.5 224.2,471.7" fill="none"/>
<path d="M358.9,214.3 362.0,215.3 365.5,216.0 368.5,216.7" fill="none"/>
<path d="M343.7,215.0 343.7,217.2 348.4,219.0 347.5,222.5 346.7,225.4 347.2,228.3 346.7,230.7 346.7,232.4" fill="none"/>
<path d="M379.0,185.0 383.0,185.5" fill="none"/>
<path d="M390.0,188.0 391.0,192.0 391.0,195.5" fill="none"/>
<path d="M391.0,195.5 387.5,196.5 388.0,199.0 390.0,200.5" fill="none"/>
<path d="M381.0,202.0 387.0,201.5 390.0,200.5" fill="none"/>
<path d="M376.5,204.0 381.0,203.5" fill="none"/>
<path d="M376.5,205.0 380.0,206.0 383.0,205.0 385.0,204.0" fill="none"/>
<path d="M383.0,205.0 388.0,206.0 392.0,205.5" fill="none"/>
<path d="M390.0,200.5 394.0,201.5 397.0,201.0 397.0,204.0 394.0,205.5" fill="none"/>
<path d="M391.0,195.5 395.0,197.5 400.0,198.5 404.0,199.0 408.5,198.0" fill="none"/>
<path d="M408.5,198.0 409.5,193.0 409.0,190.0 408.0,187.0" fill="none"/>
<path d="M400.0,186.5 406.0,186.5" fill="none"/>
<path d="M409.5,193.0 415.0,193.5 422.0,193.0 426.0,192.0" fill="none"/>
<path d="M426.0,192.0 425.0,186.0 420.0,183.0 416.0,181.0" fill="none"/>
<path d="M408.0,187.0 412.0,185.0 416.0,181.0" fill="none"/>
<path d="M404.0,182.5 410.0,182.0" fill="none"/>
<path d="M406.0,179.0 413.0,178.5" fill="none"/>
<path d="M413.0,178.5 415.0,181.0" fill="none"/>
<path d="M397.0,204.0 402.0,202.5 406.0,202.0" fill="none"/>
<path d="M406.0,202.0 408.0,205.0 407.5,208.0" fill="none"/>
<path d="M408.5,200.0 415.0,200.5 420.0,202.0 422.0,205.0 423.0,208.0" fill="none"/>
<path d="M407.5,213.5 414.0,214.0 420.0,213.0" fill="none"/>
<path d="M407.5,208.0 406.0,211.0 407.5,213.5" fill="none"/>
<path d="M397.0,205.0 402.0,207.5 406.0,207.0" fill="none"/>
<path d="M392.0,205.5 394.0,208.0" fill="none"/>
<path d="M395.0,209.0 400.0,209.5 404.0,210.0" fill="none"/>
<path d="M404.0,210.0 404.0,215.0" fill="none"/>
<path d="M410.0,214.0 409.0,218.0" fill="none"/>
<path d="M410.0,221.0 416.0,220.5 420.0,219.0" fill="none"/>
<path d="M406.0,221.0 407.5,225.0" fill="none"/>
<path d="M420.0,219.0 419.0,222.0" fill="none"/>
<path d="M397.0,201.0 400.0,198.5" fill="none"/>
<path d="M369.8,193.3 371.9,194.7 374.0,196.1 376.1,198.2 378.2,200.4" fill="none"/>
<path d="M371.2,191.2 374.0,192.6 374.7,194.0" fill="none"/>
<path d="M376.5,188.7 376.1,191.2 374.7,194.0" fill="none"/>
<path d="M374.7,194.0 376.8,196.8 378.2,200.4" fill="none"/>
<path d="M378.2,200.4 377.5,203.2 376.5,206.0" fill="none"/>
<path d="M378.9,185.2 381.8,185.2" fill="none"/>
<path d="M376.5,204.0 375.0,206.0 376.5,208.0 377.0,211.0 378.5,212.5" fill="none"/>
<path d="M383.0,177.0 383.5,173.0 385.0,169.0 384.0,165.0 386.5,161.0 390.0,156.0 394.0,153.0 397.0,151.0 401.0,150.0 405.0,150.0 408.0,149.5 410.0,148.0" fill="none"/>
<path d="M405.0,159.0 403.0,155.0 402.0,152.0 401.0,150.0" fill="none"/>
<path d="M410.0,148.0 412.0,153.0 414.0,157.0 416.0,161.0 419.0,166.0 417.0,169.0 415.0,172.0" fill="none"/>
<path d="M408.0,149.5 411.0,149.5 413.0,149.0" fill="none"/>
<path d="M470.0,195.0 478.0,194.0 485.0,195.0 484.0,189.0 490.0,186.0 497.0,184.0 502.0,186.0 512.0,186.0 518.0,190.0 524.0,193.0 530.0,195.0 536.0,198.0 540.0,200.0" fill="none"/>
<path d="M540.0,200.0 536.0,205.0 533.0,210.0 531.0,215.0 530.0,218.0" fill="none"/>
<path d="M512.0,219.0 520.0,217.0 530.0,218.0" fill="none"/>
<path d="M530.0,218.0 528.0,222.0 522.0,225.0" fill="none"/>
<path d="M512.0,222.0 520.0,224.0 522.0,225.0" fill="none"/>
<path d="M516.0,229.0 524.0,231.0 528.0,229.0" fill="none"/>
<path d="M470.0,231.0 482.0,229.0 490.0,231.0 496.0,235.0" fill="none"/>
<path d="M500.0,251.0 502.0,257.0 504.0,263.0" fill="none"/>
<path d="M540.0,200.0 546.0,196.0 554.0,197.0 560.0,194.0 570.0,197.0 580.0,198.0 590.0,197.0 598.0,198.0 602.0,195.0 601.0,190.0" fill="none"/>
<path d="M601.0,190.0 607.6,188.9 613.0,192.3 619.8,197.1 626.5,199.8 631.9,203.1 637.4,201.8 640.1,205.2 640.7,210.6 638.7,216.0" fill="none"/>
<path d="M540.0,200.0 546.0,203.0 550.0,208.0 558.0,213.0 570.0,216.0 584.0,218.6 590.0,216.0 596.0,213.0 600.0,210.0 606.0,207.0 609.0,205.0 606.0,203.0 600.0,202.0 599.0,198.0" fill="none"/>
<path d="M638.0,215.0 634.0,221.0 630.0,223.0" fill="none"/>
<path d="M544.0,249.0 554.0,253.0 562.0,256.0" fill="none"/>
<path d="M582.0,255.0 586.0,261.0 588.0,267.0 592.0,271.0 598.0,269.0 602.0,267.0 608.0,270.0" fill="none"/>
<path d="M590.0,273.0 594.0,276.0 598.0,279.0" fill="none"/>
<path d="M598.0,269.0 600.0,277.0 604.0,283.0" fill="none"/>
<path d="M450.0,214.0 455.0,216.0 460.0,218.0 463.0,220.0" fill="none"/>
<path d="M453.0,220.0 456.0,222.0 458.0,224.0 462.0,225.0 465.0,226.0" fill="none"/>
<path d="M458.0,224.0 457.0,228.0 458.0,230.0" fill="none"/>
<path d="M444.0,243.5 449.0,246.0 453.0,250.0" fill="none"/>
<path d="M440.3,245.3 445.6,245.3 453.6,242.7 459.0,245.3 463.0,249.3 468.3,250.0" fill="none"/>
<path d="M484.3,284.0 488.3,278.6 488.9,273.3 487.6,268.6" fill="none"/>
<path d="M357.7,237.2 359.2,242.5 354.0,245.5 349.5,247.7 343.5,253.0 342.0,256.7" fill="none"/>
<path d="M342.0,256.7 345.0,259.0 349.5,262.7 360.0,271.0 370.5,278.5" fill="none"/>
<path d="M348.0,262.7 348.7,287.5 337.5,288.2 334.5,290.5" fill="none"/>
<path d="M324.7,284.5 330.0,285.2 334.5,290.5" fill="none"/>
<path d="M325.5,295.7 334.5,295.7 336.0,293.5" fill="none"/>
<path d="M349.5,298.0 354.0,296.5 360.0,290.5 363.7,289.0" fill="none"/>
<path d="M331.5,302.5 336.0,303.2 338.2,307.0" fill="none"/>
<path d="M342.0,301.0 343.5,305.5 343.5,316.0" fill="none"/>
<path d="M355.5,301.0 356.2,314.5" fill="none"/>
<path d="M361.5,301.0 363.0,313.0" fill="none"/>
<path d="M364.5,301.0 366.0,312.2" fill="none"/>
<path d="M349.5,301.0 364.5,299.5" fill="none"/>
<path d="M334.5,290.5 336.0,293.5 342.0,301.0 349.5,298.0" fill="none"/>
<path d="M381.0,235.0 381.7,241.0 384.0,247.0" fill="none"/>
<path d="M408.0,400.0 415.0,398.0 421.0,394.0 428.0,390.0 433.0,387.0" fill="none"/>
<path d="M424.0,378.0 428.0,382.0 433.0,387.0" fill="none"/>
<path d="M419.0,376.0 427.0,372.0 435.0,368.0" fill="none"/>
<path d="M435.0,368.0 437.0,376.0 435.0,384.0 433.0,387.0" fill="none"/>
<path d="M433.0,387.0 435.0,394.0 437.0,396.0" fill="none"/>
<path d="M432.0,352.0 435.0,356.0 439.0,360.0 441.0,364.0 439.0,368.0 435.0,368.0" fill="none"/>
<path d="M439.0,356.0 441.0,360.0 443.0,368.0 441.0,372.0" fill="none"/>
<path d="M441.0,360.0 449.0,360.0 455.0,358.0" fill="none"/>
<path d="M445.0,335.0 454.0,341.0" fill="none"/>
<path d="M441.0,335.0 441.0,326.0 443.0,319.0" fill="none"/>
<path d="M433.0,335.0 441.0,335.0" fill="none"/>
<path d="M425.0,406.0 428.0,405.0 429.0,409.0 426.0,410.0 425.0,406.0" fill="none"/>
<path d="M433.0,398.0 435.0,399.0 434.0,401.0 433.0,398.0" fill="none"/>
<path d="M383.8,266.5 397.1,268.2 407.6,273.5 418.2,276.2" fill="none"/>
<path d="M418.2,271.8 418.2,276.2" fill="none"/>
<path d="M397.1,268.2 397.9,275.3 396.2,284.1 395.3,291.2 393.5,294.7" fill="none"/>
<path d="M370.6,292.9 375.9,292.9 382.9,292.1 390.0,293.8 393.5,294.7" fill="none"/>
<path d="M418.2,276.2 416.5,282.4 414.7,291.2 416.5,298.2 418.2,300.9" fill="none"/>
<path d="M395.3,301.8 402.4,306.2 409.4,305.3 414.7,300.9 418.2,300.9" fill="none"/>
<path d="M393.5,294.7 396.2,300.0 395.3,301.8" fill="none"/>
<path d="M393.5,296.5 390.0,305.3 386.5,310.6 382.9,314.1" fill="none"/>
<path d="M395.3,301.8 397.1,310.6 398.8,317.6" fill="none"/>
<path d="M418.2,300.9 421.8,305.3 425.3,308.8 428.8,314.1" fill="none"/>
<path d="M418.2,300.9 423.5,300.9 428.8,302.6 434.1,300.0 437.6,296.5 439.4,300.9 441.2,304.4" fill="none"/>
<path d="M445.6,290.3 442.9,294.7 441.2,300.0 441.2,304.4" fill="none"/>
<path d="M441.2,304.4 442.9,310.6 439.4,314.1" fill="none"/>
<path d="M459.7,296.5 464.1,301.8 471.2,308.8 465.9,312.4 460.6,314.1 457.1,317.6" fill="none"/>
<path d="M585.0,256.7 586.7,263.3 590.8,270.0 593.3,271.7" fill="none"/>
<path d="M590.8,275.8 593.3,271.7" fill="none"/>
<path d="M593.3,271.7 598.3,269.2 601.7,270.8 600.0,275.0 604.2,280.0 608.3,285.0 610.0,290.0 607.5,293.3 604.2,291.7" fill="none"/>
<path d="M601.7,270.8 606.7,270.0 608.3,272.5" fill="none"/>
<path d="M599.2,294.2 604.2,291.7" fill="none"/>
<path d="M607.5,293.3 609.2,296.7 606.7,300.0 603.3,301.7" fill="none"/>
<path d="M597.5,313.3 600.0,312.5" fill="none"/>
<path d="M619.2,326.7 623.3,325.8 628.3,324.2 630.8,320.0 632.5,317.5 635.0,317.5" fill="none"/>
<path d="M472.0,215.0 476.0,214.0 479.5,213.2" fill="none"/>
<path d="M470.0,224.0 473.0,223.0 476.0,224.5 480.0,226.0 484.0,228.0" fill="none"/>
<path d="M389.5,374.0 394.0,374.5 405.0,374.5 410.0,376.0 416.0,375.5" fill="none"/>
<path d="M410.0,376.0 409.0,387.0 407.5,387.0 407.5,405.0" fill="none"/>
<path d="M413.0,362.0 412.5,372.0 416.0,375.5" fill="none"/>
<path d="M403.0,349.0 409.0,348.0 413.0,351.0 414.0,358.0 418.0,358.0" fill="none"/>
<path d="M383.3,330.8 388.8,330.8 389.8,327.5 394.2,324.3" fill="none"/>
<path d="M388.8,330.8 389.8,336.2 393.1,340.5" fill="none"/>
<path d="M415.0,377.0 419.0,376.0 424.0,378.0" fill="none"/>
<path d="M407.5,405.0 407.5,407.0" fill="none"/>
<path d="M401.0,401.0 407.5,400.5" fill="none"/>
<path d="M217.5,386.7 220.0,386.7 225.0,390.0 230.0,395.0 231.7,400.0 236.7,401.7 240.0,398.3 238.3,395.0 237.5,390.0 233.3,386.7 230.0,380.8" fill="none"/>
<path d="M240.0,398.3 241.7,403.3 240.0,408.3 243.3,413.3" fill="none"/>
<path d="M233.3,408.3 240.0,408.3 245.0,415.8" fill="none"/>
<path d="M633.3,228.2 636.7,227.5 640.1,228.2" fill="none"/>
<path d="M542.0,249.0 544.0,248.0 550.0,251.0 555.0,253.5 560.0,255.0 561.5,255.5" fill="none"/>
</g>
<g id="legend">
<rect x="333" y="538.5" width="47" height="10" fill="url(#hatch)" stroke="#c4c4c4" stroke-width="0.8"/>
<line x1="356.5" y1="535" x2="356.5" y2="538.5" stroke="#999" stroke-width="0.8"/>
<rect x="400.4" y="538.3" width="58.1" height="10" fill="#ef8a62" stroke="#a0a0a0" stroke-width="0.3"/>
<rect x="458.5" y="538.3" width="58.9" height="10" fill="#67a9cf" stroke="#a0a0a0" stroke-width="0.3"/>
<line x1="429.4" y1="535" x2="429.4" y2="538.3" stroke="#999" stroke-width="0.8"/>
<line x1="487.8" y1="535" x2="487.8" y2="538.3" stroke="#999" stroke-width="0.8"/>
<g font-family="Liberation Sans, sans-serif" font-size="13" fill="#333" text-anchor="middle">
<text x="356.6" y="531.5" letter-spacing="0.3">No data</text>
<text x="430" y="531.5">No</text>
<text x="486.5" y="531.5" letter-spacing="-0.3">Yes</text>
</g>
</g>
</svg>
<div class="foot" style="left:16px;letter-spacing:0.1px"><b>Data source:</b> UN Statistics Division (2024)</div>
<div class="foot" style="right:22px">democracy | CC BY</div>
</body></html>
